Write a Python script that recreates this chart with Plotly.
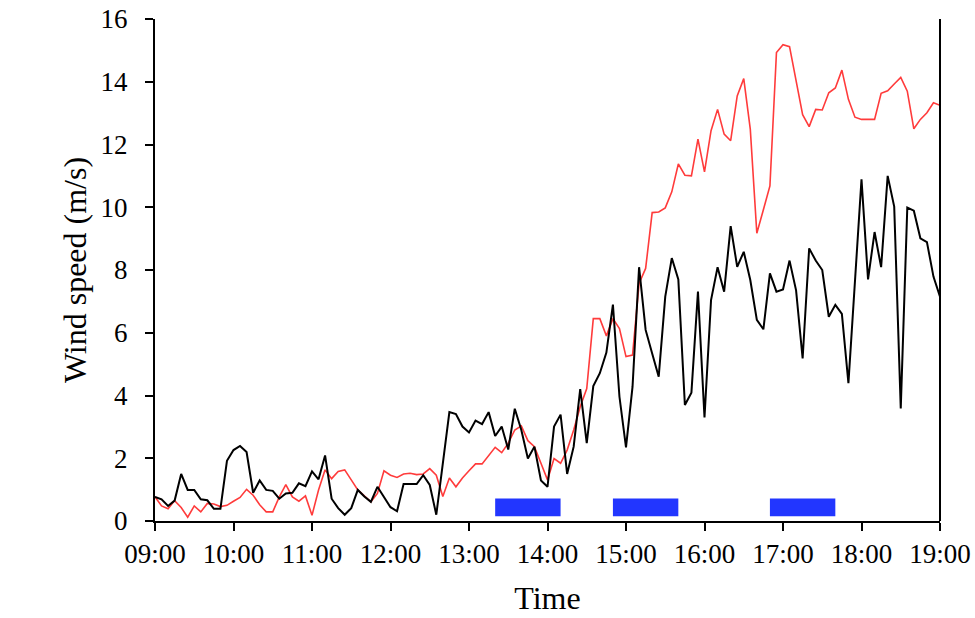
import pandas as pd
import plotly.graph_objects as go

# Time axis: 5-minute samples from 09:00 to 19:00
times = pd.date_range("2020-01-01 09:00", "2020-01-01 19:00", freq="5min")

black_speed = [
    0.77, 0.69, 0.48, 0.65, 1.50, 0.99, 0.99, 0.69, 0.66, 0.39, 0.39, 1.92,
    2.26, 2.39, 2.20, 0.90, 1.29, 0.99, 0.96, 0.71, 0.88, 0.90, 1.20, 1.11,
    1.58, 1.33, 2.09, 0.71, 0.41, 0.20, 0.41, 0.99, 0.78, 0.61, 1.09, 0.75,
    0.44, 0.31, 1.18, 1.18, 1.18, 1.46, 1.15, 0.20, 1.84, 3.47, 3.41, 3.01,
    2.82, 3.20, 3.09, 3.47, 2.71, 3.01, 2.28, 3.58, 2.90, 1.99, 2.37, 1.29,
    1.09, 3.01, 3.39, 1.50, 2.37, 4.20, 2.48, 4.30, 4.71, 5.37, 6.90, 3.96,
    2.35, 4.28, 8.09, 6.09, 5.34, 4.60, 7.15, 8.38, 7.70, 3.70, 4.09, 7.31,
    3.30, 7.04, 8.09, 7.31, 9.40, 8.10, 8.58, 7.68, 6.41, 6.11, 7.89, 7.31,
    7.38, 8.30, 7.35, 5.18, 8.69, 8.30, 8.00, 6.51, 6.89, 6.60, 4.39, 7.64,
    10.89, 7.70, 9.21, 8.09, 11.00, 10.02, 3.59, 9.99, 9.89, 9.01, 8.89, 7.79,
    7.15,
]

red_speed = [
    0.77, 0.48, 0.39, 0.65, 0.43, 0.12, 0.48, 0.29, 0.56, 0.54, 0.46, 0.50,
    0.63, 0.75, 1.01, 0.82, 0.52, 0.29, 0.29, 0.77, 1.16, 0.77, 0.63, 0.80,
    0.18, 0.99, 1.63, 1.35, 1.58, 1.63, 1.31, 0.99, 0.80, 0.61, 0.88, 1.60,
    1.46, 1.39, 1.50, 1.52, 1.48, 1.50, 1.67, 1.46, 0.78, 1.37, 1.09, 1.37,
    1.60, 1.82, 1.82, 2.07, 2.35, 2.18, 2.48, 2.90, 3.03, 2.56, 2.37, 1.84,
    1.31, 1.99, 1.84, 2.26, 2.90, 3.64, 4.22, 6.45, 6.45, 5.90, 6.45, 6.13,
    5.24, 5.29, 7.57, 8.05, 9.83, 9.85, 9.98, 10.49, 11.38, 11.02, 11.00, 12.17,
    11.13, 12.44, 13.12, 12.33, 12.12, 13.55, 14.10, 12.49, 9.17, 9.92, 10.68, 14.93,
    15.18, 15.12, 14.06, 12.95, 12.57, 13.12, 13.10, 13.65, 13.80, 14.37, 13.44, 12.87,
    12.80, 12.80, 12.80, 13.63, 13.71, 13.93, 14.14, 13.70, 12.50, 12.80, 13.01, 13.33,
    13.25,
]

# Highlighted periods (blue bars)
period_start = ["2020-01-01 13:20", "2020-01-01 14:50", "2020-01-01 16:50"]
period_end = ["2020-01-01 14:10", "2020-01-01 15:40", "2020-01-01 17:40"]
period_low = 0.15
period_high = 0.72

tick_times = pd.date_range("2020-01-01 09:00", "2020-01-01 19:00", freq="1h")
tick_labels = ["09:00", "10:00", "11:00", "12:00", "13:00", "14:00",
               "15:00", "16:00", "17:00", "18:00", "19:00"]

FONT = "Liberation Serif"

fig = go.Figure()

for s, e in zip(period_start, period_end):
    fig.add_trace(go.Scatter(
        x=[s, e, e, s, s],
        y=[period_low, period_low, period_high, period_high, period_low],
        fill="toself", fillcolor="#2236ff", mode="lines",
        line=dict(width=0, color="#2236ff"), hoverinfo="skip", showlegend=False,
    ))

fig.add_trace(go.Scatter(
    x=times, y=red_speed, mode="lines",
    line=dict(color="#ff3b3b", width=1.6), showlegend=False,
))
fig.add_trace(go.Scatter(
    x=times, y=black_speed, mode="lines",
    line=dict(color="#000000", width=2), showlegend=False,
))

fig.update_layout(
    width=975, height=618,
    margin=dict(l=155, r=35, t=19, b=97, autoexpand=False),
    plot_bgcolor="white", paper_bgcolor="white",
    font=dict(family=FONT, color="black", size=24),
    showlegend=False,
)

fig.update_xaxes(
    range=["2020-01-01 09:00", "2020-01-01 19:00"],
    tickmode="array", tickvals=tick_times, ticktext=tick_labels,
    ticks="outside", ticklen=8, tickwidth=1.5, tickcolor="black",
    showline=True, linecolor="black", linewidth=2,
    showgrid=False, zeroline=False, automargin=False,
    tickfont=dict(family=FONT, size=27),
    title=dict(text="Time", font=dict(family=FONT, size=32), standoff=18),
)
fig.update_yaxes(
    range=[0, 16], dtick=2, tick0=0,
    ticks="outside", ticklen=8, tickwidth=1.5, tickcolor="black",
    showline=True, linecolor="black", linewidth=2,
    showgrid=False, zeroline=False, automargin=False,
    ticklabelstandoff=12,
    tickfont=dict(family=FONT, size=27),
    title=dict(text="Wind speed (m/s)", font=dict(family=FONT, size=32), standoff=4),
)

# right frame line
fig.add_shape(type="line", xref="paper", yref="paper", x0=1, x1=1, y0=0, y1=1,
              line=dict(color="black", width=2))

fig.write_html("out.html")
